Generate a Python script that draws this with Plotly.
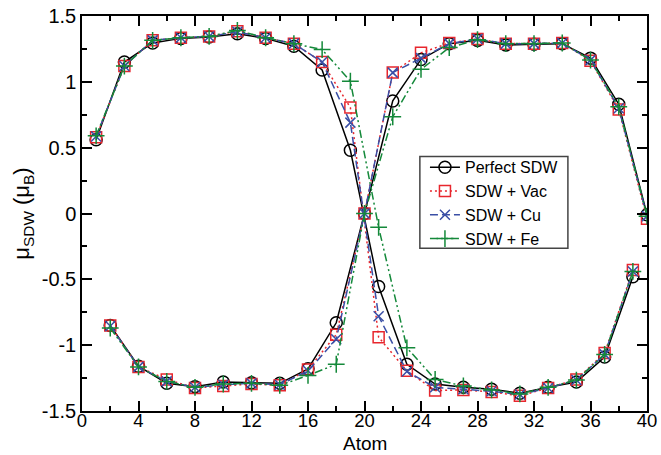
import plotly.graph_objects as go

# Atom indices: the chain alternates between two sublattices
atoms_odd = list(range(1, 40, 2))
atoms_even = list(range(2, 41, 2))

# Local SDW moment (mu_B) per atom, odd and even sublattices
perfect_odd = [0.56, 1.15, 1.295, 1.33, 1.34, 1.365, 1.33, 1.27, 1.09, 0.48,
               -0.555, -1.145, -1.295, -1.32, -1.335, -1.365, -1.32, -1.28, -1.09, -0.48]
perfect_even = [-0.85, -1.16, -1.29, -1.315, -1.28, -1.285, -1.29, -1.18, -0.83, 0.0,
                0.855, 1.17, 1.29, 1.315, 1.28, 1.285, 1.29, 1.18, 0.83, -0.01]

vac_odd = [0.58, 1.12, 1.315, 1.335, 1.345, 1.385, 1.335, 1.29, 1.15, 0.805,
           -0.94, -1.195, -1.345, -1.34, -1.355, -1.385, -1.325, -1.26, -1.06, -0.43]
vac_even = [-0.85, -1.165, -1.26, -1.325, -1.31, -1.295, -1.305, -1.185, -0.92, 0.0,
            1.07, 1.22, 1.295, 1.325, 1.29, 1.29, 1.295, 1.16, 0.79, -0.04]

cu_odd = [0.585, 1.12, 1.315, 1.335, 1.345, 1.38, 1.335, 1.29, 1.15, 0.69,
          -0.78, -1.2, -1.32, -1.335, -1.35, -1.375, -1.325, -1.265, -1.07, -0.44]
cu_even = [-0.855, -1.165, -1.275, -1.32, -1.3, -1.29, -1.3, -1.195, -0.955, 0.0,
           1.07, 1.18, 1.29, 1.325, 1.29, 1.29, 1.295, 1.165, 0.8, -0.02]

fe_odd = [0.59, 1.12, 1.315, 1.335, 1.345, 1.39, 1.335, 1.29, 1.245, 1.005,
          -0.105, -1.02, -1.26, -1.31, -1.34, -1.37, -1.32, -1.265, -1.07, -0.44]
fe_even = [-0.87, -1.165, -1.275, -1.32, -1.295, -1.29, -1.305, -1.23, -1.145, 0.0,
           0.735, 1.095, 1.26, 1.32, 1.29, 1.29, 1.295, 1.165, 0.81, -0.02]

x_ticks = list(range(0, 41, 4))
y_ticks = [-1.5, -1, -0.5, 0, 0.5, 1, 1.5]
y_tick_text = ["-1.5", "-1", "-0.5", "0", "0.5", "1", "1.5"]

series = [
    ("Perfect SDW", perfect_odd, perfect_even, "black", "solid", "circle-open", 12),
    ("SDW + Vac", vac_odd, vac_even, "#e8262d", "2px,3px", "square-open", 11),
    ("SDW + Cu", cu_odd, cu_even, "#3a4fa6", "8px,4px", "x-thin-open", 10),
    ("SDW + Fe", fe_odd, fe_even, "#14893a", "8px,3px,2px,3px,2px,3px", "cross-thin-open", 12),
]

fig = go.Figure()
for name, odd, even, color, dash, symbol, size in series:
    # one trace per series; a None breaks the line between the two sublattices
    fig.add_trace(go.Scatter(
        x=atoms_odd + [None] + atoms_even,
        y=odd + [None] + even,
        mode="lines+markers",
        name=name,
        line=dict(color=color, width=1.5, dash=dash),
        marker=dict(symbol=symbol, size=size, color=color,
                    line=dict(color=color, width=1.5)),
    ))

family = "Liberation Sans, Arial, sans-serif"
tick_font = dict(family=family, size=20, color="black")
x_tick_font = dict(family=family, size=18.5, color="black")
title_font = dict(family=family, size=19, color="black")

# framed box behind the legend entries (tighter than plotly's own padding)
fig.add_shape(type="rect", xref="paper", yref="paper",
              x0=0.598, x1=0.860, y0=0.412, y1=0.644,
              line=dict(color="#444444", width=1.5), fillcolor="white", layer="above")

# x-axis title placed just under the tick labels, resting on the bottom edge
fig.add_annotation(text="Atom", xref="paper", yref="paper", x=0.5, y=-0.111,
                   xanchor="center", yanchor="bottom", showarrow=False,
                   borderpad=0, font=title_font)

fig.update_layout(
    width=661, height=455,
    margin=dict(l=82, r=14, t=16, b=44, autoexpand=False),
    paper_bgcolor="white", plot_bgcolor="white",
    font=tick_font,
    showlegend=True,
    legend=dict(
        x=0.607, y=0.660, xanchor="left", yanchor="top",
        bgcolor="rgba(0,0,0,0)", borderwidth=0,
        font=dict(family=family, size=16, color="black"),
        tracegroupgap=0, itemwidth=30,
    ),
    xaxis=dict(
        range=[0, 40], tickvals=x_ticks, ticks="inside", ticklen=10, tickwidth=1.5,
        tickcolor="black", showline=True, linecolor="black", linewidth=1.5,
        mirror="ticks", showgrid=False, zeroline=False, automargin=False,
        ticklabelstandoff=-8,
        minor=dict(ticks="inside", ticklen=5, tickwidth=1.5, dtick=2, tickcolor="black", showgrid=False),
        tickfont=x_tick_font,
    ),
    yaxis=dict(
        range=[-1.5, 1.5], tickvals=y_ticks, ticktext=y_tick_text, ticks="inside",
        ticklen=10, tickwidth=1.5, tickcolor="black", showline=True, linecolor="black",
        linewidth=1.5, mirror="ticks", showgrid=False, zeroline=False, automargin=False,
        minor=dict(ticks="inside", ticklen=5, tickwidth=1.5, dtick=0.25, tickcolor="black", showgrid=False),
        title=dict(text="μ<sub>SDW</sub> (μ<sub>B</sub>)", standoff=6,
                   font=dict(family=family, size=22, color="black")),
        tickfont=tick_font,
    ),
)

fig.write_html("out.html")
